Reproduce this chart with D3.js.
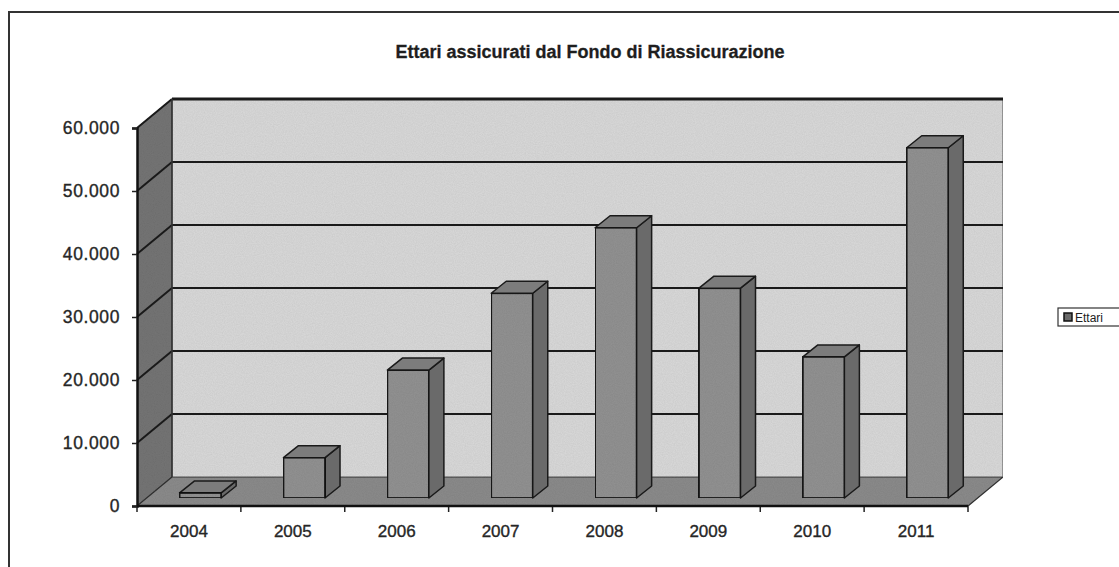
<!DOCTYPE html>
<html>
<head>
<meta charset="utf-8">
<script src="https://cdn.jsdelivr.net/npm/d3@7"></script>
<style>
  html, body { margin: 0; padding: 0; background: #fff; }
  svg { display: block; }
</style>
</head>
<body>
<svg id="chart" width="1119" height="567"></svg>
<script>
// Hectares insured by the reinsurance fund, per year
const years = ["2004", "2005", "2006", "2007", "2008", "2009", "2010", "2011"];
const ettari = [800, 6400, 20300, 32500, 42900, 33300, 22400, 55600];
const yTicks = [0, 10000, 20000, 30000, 40000, 50000, 60000];
const yTickLabels = ["0", "10.000", "20.000", "30.000", "40.000", "50.000", "60.000"];
const seriesName = "Ettari";
const title = "Ettari assicurati dal Fondo di Riassicurazione";

(function () {
const svg = d3.select("#chart");
const W = 1119, H = 567;

// plot box (front plane) and 3D depth offset of the back wall
const x0 = 137, x1 = 968, yBottom = 506, yTopPx = 128;
const depthX = 35, depthY = 29;
// bars sit a little behind the front plane and have their own depth
const barShiftY = 8;
const barDepthX = 15, barDepthY = 12;

const x = d3.scaleBand().domain(years).range([x0, x1]).paddingInner(0).paddingOuter(0);
const y = d3.scaleLinear().domain([0, 60000]).range([yBottom, yTopPx]);

const defs = svg.append("defs");
// light film grain for the gray surfaces
const grain = defs.append("filter").attr("id", "grain").attr("x", 0).attr("y", 0).attr("width", 1).attr("height", 1);
grain.append("feTurbulence").attr("type", "fractalNoise").attr("baseFrequency", 0.9).attr("numOctaves", 2).attr("seed", 3).attr("result", "noise");
grain.append("feColorMatrix").attr("in", "noise").attr("type", "matrix")
  .attr("values", "0 0 0 0 0  0 0 0 0 0  0 0 0 0 0  0 0 0 0.16 0").attr("result", "dark");
grain.append("feComposite").attr("in", "dark").attr("in2", "SourceGraphic").attr("operator", "in").attr("result", "dk");
grain.append("feMerge").selectAll("feMergeNode").data(["SourceGraphic", "dk"]).join("feMergeNode").attr("in", d => d);

const labelFont = "'Liberation Sans', Arial, sans-serif";

// outer chart frame
svg.append("rect").attr("x", 9).attr("y", 12).attr("width", W + 20).attr("height", H + 20)
  .attr("fill", "#fff").attr("stroke", "#333").attr("stroke-width", 2);

// title
svg.append("text")
  .attr("x", 590).attr("y", 58)
  .attr("text-anchor", "middle")
  .attr("font-family", "'Liberation Sans Narrow', 'Arial Narrow', 'Liberation Sans', sans-serif")
  .attr("font-weight", "bold")
  .attr("font-size", 18)
  .attr("fill", "#1e1e1e")
  .attr("stroke", "#1e1e1e").attr("stroke-width", 0.3)
  .text(title);

const g = svg.append("g");

// back wall
g.append("rect")
  .attr("x", x0 + depthX).attr("y", yTopPx - depthY)
  .attr("width", x1 - x0).attr("height", yBottom - yTopPx)
  .attr("fill", "#dadada").attr("stroke", "#555").attr("stroke-width", 1)
  .attr("filter", "url(#grain)");

// left side wall
g.append("polygon")
  .attr("points", [[x0, yBottom], [x0, yTopPx], [x0 + depthX, yTopPx - depthY], [x0 + depthX, yBottom - depthY]].join(" "))
  .attr("fill", "#767676").attr("stroke", "#333").attr("stroke-width", 1)
  .attr("filter", "url(#grain)");

// floor
g.append("polygon")
  .attr("points", [[x0, yBottom], [x1, yBottom], [x1 + depthX, yBottom - depthY], [x0 + depthX, yBottom - depthY]].join(" "))
  .attr("fill", "#8c8c8c").attr("stroke", "#333").attr("stroke-width", 1.2)
  .attr("filter", "url(#grain)");

// gridlines on side wall and back wall
const grid = yTicks.filter(v => v > 0);
g.selectAll(".gridBack").data(grid).join("line")
  .attr("x1", x0 + depthX).attr("x2", x1 + depthX)
  .attr("y1", d => y(d) - depthY).attr("y2", d => y(d) - depthY)
  .attr("stroke", "#1a1a1a").attr("stroke-width", d => d === 60000 ? 3 : 2.2);
g.selectAll(".gridSide").data(grid).join("line")
  .attr("x1", x0).attr("x2", x0 + depthX)
  .attr("y1", d => y(d)).attr("y2", d => y(d) - depthY)
  .attr("stroke", "#1a1a1a").attr("stroke-width", 2);
// back wall left edge
g.append("line")
  .attr("x1", x0 + depthX).attr("x2", x0 + depthX)
  .attr("y1", yTopPx - depthY).attr("y2", yBottom - depthY)
  .attr("stroke", "#333").attr("stroke-width", 1.5);

// bars
const bw = x.bandwidth() * 0.4;
const bars = g.selectAll(".bar").data(years.map((yr, i) => ({ yr, v: ettari[i] }))).join("g");
const bx = d => x(d.yr) + x.bandwidth() * 0.41;
const base = yBottom - barShiftY;
const barTop = d => y(d.v) - barShiftY;
bars.append("polygon") // side face
  .attr("points", d => [[bx(d) + bw, barTop(d)], [bx(d) + bw + barDepthX, barTop(d) - barDepthY],
    [bx(d) + bw + barDepthX, base - barDepthY], [bx(d) + bw, base]].join(" "))
  .attr("fill", "#6a6a6a").attr("stroke", "#1a1a1a").attr("stroke-width", 1.5).attr("stroke-linejoin", "round");
bars.append("polygon") // top face
  .attr("points", d => [[bx(d), barTop(d)], [bx(d) + barDepthX, barTop(d) - barDepthY],
    [bx(d) + bw + barDepthX, barTop(d) - barDepthY], [bx(d) + bw, barTop(d)]].join(" "))
  .attr("fill", "#7c7c7c").attr("stroke", "#1a1a1a").attr("stroke-width", 1.5).attr("stroke-linejoin", "round");
bars.append("rect") // front face
  .attr("x", bx).attr("y", barTop)
  .attr("width", bw).attr("height", d => base - barTop(d))
  .attr("fill", "#939393").attr("stroke", "#1a1a1a").attr("stroke-width", 1.8)
  .attr("filter", "url(#grain)");

// value axis
const yAxis = d3.axisLeft(y).tickValues(yTicks).tickSize(5).tickPadding(12)
  .tickFormat((d, i) => yTickLabels[i]);
const ya = svg.append("g").attr("transform", `translate(${x0},0)`).call(yAxis);
ya.select(".domain").attr("stroke", "#111").attr("stroke-width", 2.5);
ya.selectAll(".tick line").attr("stroke", "#222").attr("stroke-width", 1.5);
ya.selectAll("text").attr("font-family", labelFont)
  .attr("font-size", 17.5).attr("fill", "#262626")
  .attr("stroke", "#262626").attr("stroke-width", 0.35)
  .attr("letter-spacing", 0.6);

// category axis along the front floor edge
const xTickPos = years.map(yr => x(yr)).concat([x1]);
svg.append("g").selectAll("line").data(xTickPos).join("line")
  .attr("x1", d => d).attr("x2", d => d).attr("y1", yBottom).attr("y2", yBottom + 6)
  .attr("stroke", "#222").attr("stroke-width", 1.5);
svg.append("line").attr("x1", x0).attr("x2", x1).attr("y1", yBottom).attr("y2", yBottom)
  .attr("stroke", "#111").attr("stroke-width", 2.5);
svg.append("g").selectAll("text").data(years).join("text")
  .attr("x", d => x(d) + x.bandwidth() / 2).attr("y", 537)
  .attr("text-anchor", "middle")
  .attr("font-family", labelFont)
  .attr("font-size", 17).attr("fill", "#262626")
  .attr("stroke", "#262626").attr("stroke-width", 0.35)
  .text(d => d);

// legend (runs off the right edge)
const lg = svg.append("g").attr("transform", "translate(1058,308)");
lg.append("rect").attr("width", 80).attr("height", 18).attr("fill", "#fff").attr("stroke", "#333").attr("stroke-width", 1.2);
lg.append("rect").attr("x", 6).attr("y", 5).attr("width", 8).attr("height", 8).attr("fill", "#6a6a6a").attr("stroke", "#111").attr("stroke-width", 1.5);
lg.append("text").attr("x", 17).attr("y", 13.5)
  .attr("font-family", "'Liberation Sans Narrow', 'Arial Narrow', sans-serif")
  .attr("font-size", 12).attr("fill", "#222").text(seriesName);
})();
</script>
</body>
</html>
